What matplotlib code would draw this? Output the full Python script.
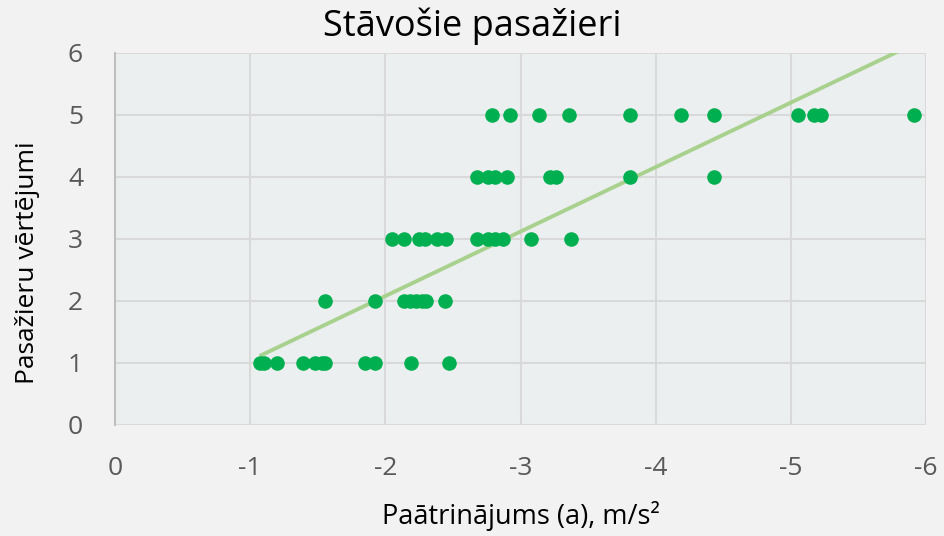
import matplotlib
matplotlib.use("Agg")
import matplotlib.pyplot as plt
import numpy as np

plt.rcParams['font.family'] = ['Open Sans', 'DejaVu Sans']
plt.rcParams['axes.unicode_minus'] = False

title = "Stāvošie pasažieri"
x_label = "Paātrinājums (a), m/s²"
y_label = "Pasažieru vērtējumi"

x_r1 = [-1.07, -1.10, -1.20, -1.39, -1.48, -1.53, -1.55, -1.85, -1.92, -2.19, -2.47]
x_r2 = [-1.55, -1.92, -2.14, -2.18, -2.23, -2.27, -2.30, -2.44]
x_r3 = [-2.05, -2.14, -2.25, -2.29, -2.38, -2.45, -2.68, -2.76, -2.81, -2.87, -3.08, -3.37]
x_r4 = [-2.68, -2.76, -2.81, -2.90, -3.22, -3.26, -3.81, -4.43]
x_r5 = [-2.79, -2.92, -3.14, -3.36, -3.81, -4.19, -4.43, -5.05, -5.17, -5.22, -5.91]

# linear trend line
trend_slope = -1.04
trend_intercept = 0.0

xs = np.array(x_r1 + x_r2 + x_r3 + x_r4 + x_r5)
ys = np.array([1]*len(x_r1) + [2]*len(x_r2) + [3]*len(x_r3) + [4]*len(x_r4) + [5]*len(x_r5), dtype=float)

W, H = 944, 536
fig = plt.figure(figsize=(W/100, H/100), dpi=100)
fig.patch.set_facecolor('#f2f2f2')
ax = fig.add_axes([115/W, 1 - 425/H, (926-115)/W, (425-53)/H])
ax.set_facecolor('#ebeff0')

ax.set_xlim(0, -6)
ax.set_ylim(0, 6)
ax.set_xticks(np.arange(0, -7, -1))
ax.set_yticks(np.arange(0, 7, 1))
ax.grid(True, color='#d9d9d9', linewidth=1.5)
ax.set_axisbelow(True)
for s in ['top', 'right', 'bottom']:
    ax.spines[s].set_visible(False)
ax.spines['left'].set_color('#bfbfbf')
ax.spines['left'].set_linewidth(1.5)
ax.tick_params(length=0, labelsize=19, colors='#595959')
ax.tick_params(axis='x', pad=22)
ax.tick_params(axis='y', pad=23)

lx = np.array([xs.max(), xs.min()])
ax.plot(lx, trend_slope * lx + trend_intercept, color='#a9d18e', linewidth=2.8,
        zorder=2, solid_capstyle='butt')

ax.scatter(xs, ys, s=110, color='#00b050', zorder=3, linewidths=0)

fig.text(0.5, 1 - 36/H, title, fontsize=26, color='#000000', ha='center', va='baseline')
fig.text(521/W, 1 - 524/H, x_label, fontsize=19.5, color='#000000', ha='center', va='baseline')
fig.text(15/W, 1 - 263/H, y_label, fontsize=19, color='#000000', ha='left', va='center',
         rotation=90)

fig.savefig("out.png", dpi=100, facecolor=fig.get_facecolor())
